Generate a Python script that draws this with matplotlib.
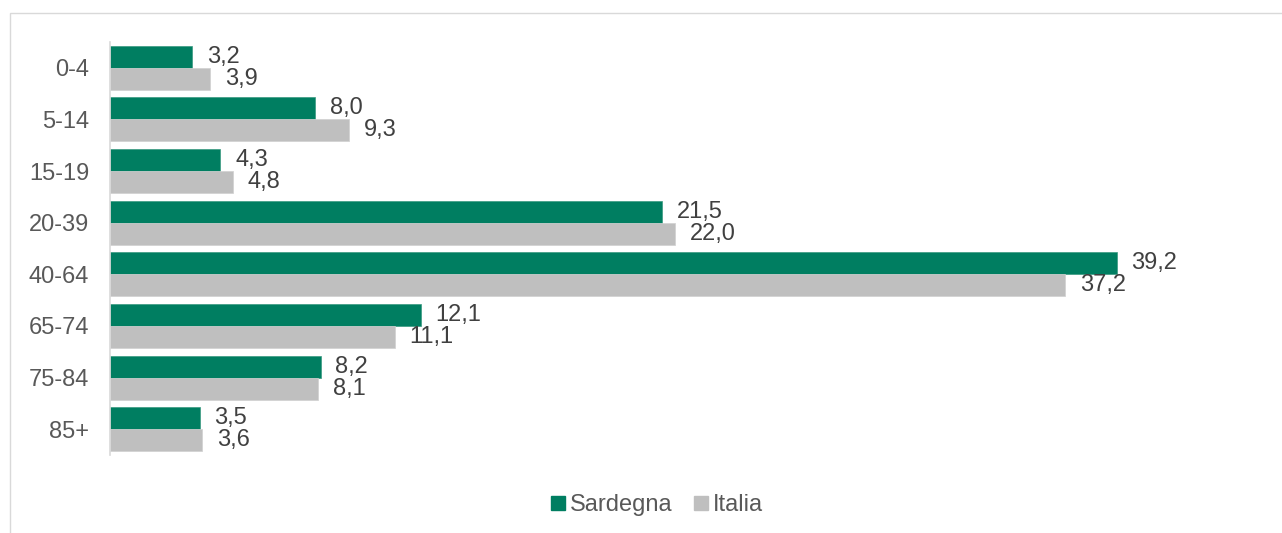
import matplotlib.pyplot as plt
from matplotlib.patches import Rectangle
from matplotlib.lines import Line2D
import numpy as np

plt.rcParams['font.family'] = ['Liberation Sans', 'DejaVu Sans']

categories = ["0-4", "5-14", "15-19", "20-39", "40-64", "65-74", "75-84", "85+"]
sardegna = [3.2, 8.0, 4.3, 21.5, 39.2, 12.1, 8.2, 3.5]
italia = [3.9, 9.3, 4.8, 22.0, 37.2, 11.1, 8.1, 3.6]

green = "#007E61"
grey = "#BFBFBF"
text_col = "#595959"
fs = 17

W, H = 1282, 533
fig = plt.figure(figsize=(W / 100, H / 100), dpi=100)
ax = fig.add_axes([110 / W, 1 - 455 / H, 1130 / W, 413 / H])

y = np.arange(len(categories))
h = 0.425
ax.barh(y - h / 2, sardegna, height=h, color=green, edgecolor="#3a9a80", linewidth=0.5)
ax.barh(y + h / 2, italia, height=h, color=grey, edgecolor="#d0d0d0", linewidth=0.5)

# value labels
for yi, v in zip(y, sardegna):
    ax.annotate(f"{v:.1f}".replace(".", ","), (v, yi - h / 2), xytext=(10.5, 0),
                textcoords="offset points", va="center", ha="left",
                fontsize=fs, color="#404040")
for yi, v in zip(y, italia):
    ax.annotate(f"{v:.1f}".replace(".", ","), (v, yi + h / 2), xytext=(10.5, 0),
                textcoords="offset points", va="center", ha="left",
                fontsize=fs, color="#404040")

ax.set_xlim(0, 44)
ax.set_ylim(len(categories) - 0.5, -0.5)
ax.set_yticks(y)
ax.set_yticklabels(categories, fontsize=fs, color=text_col)
ax.tick_params(axis="y", length=0, pad=15)
ax.set_xticks([])
for s in ["top", "right", "bottom"]:
    ax.spines[s].set_visible(False)
ax.spines["left"].set_color("#d9d9d9")
ax.spines["left"].set_linewidth(1.2)

# chart border
fig.patches.append(Rectangle((9.5 / W, -0.1), 1.2, 1.1 - 13.5 / H, transform=fig.transFigure,
                             fill=False, edgecolor="#d9d9d9", linewidth=1))

handles = [Line2D([], [], marker="s", linestyle="", markersize=10, color=green, label="Sardegna"),
           Line2D([], [], marker="s", linestyle="", markersize=10, color=grey, label="Italia")]
leg = fig.legend(handles=handles, loc="center", bbox_to_anchor=(657 / W, 1 - 505 / H), ncol=2,
                 frameon=False, fontsize=fs, handletextpad=0.2, columnspacing=0.9,
                 handlelength=0.6)
for t in leg.get_texts():
    t.set_color(text_col)

fig.savefig("out.png", dpi=100)
